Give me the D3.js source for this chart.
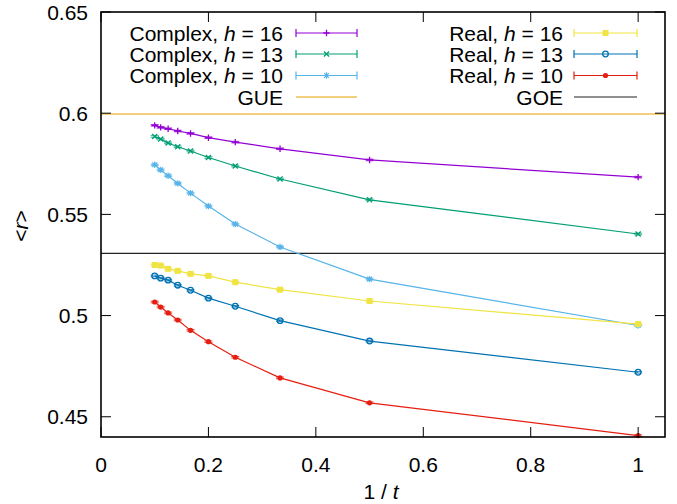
<!DOCTYPE html>
<html>
<head>
<meta charset="utf-8">
<script src="https://cdn.jsdelivr.net/npm/d3@7"></script>
<style>
  html, body { margin: 0; padding: 0; background: #fff; }
  svg { display: block; font-family: "Liberation Sans", Arial, Helvetica, sans-serif; }
</style>
</head>
<body>
<svg id="chart" width="677" height="504"></svg>
<script>
// x = 1/t for t = 10 ... 1
const invT = [1/10, 1/9, 1/8, 1/7, 1/6, 1/5, 1/4, 1/3, 1/2, 1];

// mean gap ratio <r> per series (same order as invT)
const complexH16 = [0.5940, 0.5930, 0.5923, 0.5912, 0.5900, 0.5879, 0.5857, 0.5824, 0.5769, 0.5684];
const complexH13 = [0.5885, 0.5872, 0.5853, 0.5834, 0.5813, 0.5781, 0.5739, 0.5675, 0.5572, 0.5403];
const complexH10 = [0.5745, 0.5720, 0.5691, 0.5653, 0.5605, 0.5541, 0.5452, 0.5339, 0.5180, 0.4951];
const realH16    = [0.5250, 0.5247, 0.5231, 0.5221, 0.5206, 0.5196, 0.5165, 0.5128, 0.5072, 0.4958];
const realH13    = [0.5196, 0.5185, 0.5175, 0.5150, 0.5125, 0.5086, 0.5046, 0.4975, 0.4874, 0.4720];
const realH10    = [0.5067, 0.5042, 0.5013, 0.4978, 0.4927, 0.4871, 0.4794, 0.4692, 0.4569, 0.4407];

// reference ensembles
const gueValue = 0.5996;
const goeValue = 0.5307;

const xTicks = [0, 0.2, 0.4, 0.6, 0.8, 1];
const yTicks = [0.45, 0.5, 0.55, 0.6, 0.65];

const series = [
  { label: "Complex, ", h: "16", values: complexH16, color: "#9400d3", marker: "plus",     col: 0, row: 0 },
  { label: "Complex, ", h: "13", values: complexH13, color: "#009e73", marker: "cross",    col: 0, row: 1 },
  { label: "Complex, ", h: "10", values: complexH10, color: "#56b4e9", marker: "star",     col: 0, row: 2 },
  { label: "Real, ",    h: "16", values: realH16,    color: "#f0e442", marker: "square",   col: 1, row: 0 },
  { label: "Real, ",    h: "13", values: realH13,    color: "#0072b2", marker: "circle",   col: 1, row: 1 },
  { label: "Real, ",    h: "10", values: realH10,    color: "#e51e10", marker: "dot",      col: 1, row: 2 }
];

const svg = d3.select("#chart");
const plotL = 101, plotR = 665, plotT = 12, plotB = 437;

const x = d3.scaleLinear().domain([0, 1.05]).range([plotL, plotR]);
const y = d3.scaleLinear().domain([0.44, 0.65]).range([plotB, plotT]);

const fontSize = 21;
const tickLen = 10;

// reference lines
svg.append("line")
  .attr("x1", plotL).attr("x2", plotR)
  .attr("y1", y(gueValue)).attr("y2", y(gueValue))
  .attr("stroke", "#e69f00").attr("stroke-width", 1.2);
svg.append("line")
  .attr("x1", plotL).attr("x2", plotR)
  .attr("y1", y(goeValue)).attr("y2", y(goeValue))
  .attr("stroke", "#222").attr("stroke-width", 1.2);

// marker shapes
function drawMarker(g, type, color, cx, cy) {
  const s = 3.2;
  if (type === "plus") {
    g.append("path").attr("d", `M${cx - s},${cy}H${cx + s}M${cx},${cy - s}V${cy + s}`)
      .attr("stroke", color).attr("stroke-width", 1.3).attr("fill", "none");
  } else if (type === "cross") {
    g.append("path").attr("d", `M${cx - s * 0.8},${cy - s * 0.8}L${cx + s * 0.8},${cy + s * 0.8}M${cx - s * 0.8},${cy + s * 0.8}L${cx + s * 0.8},${cy - s * 0.8}`)
      .attr("stroke", color).attr("stroke-width", 1.3).attr("fill", "none");
  } else if (type === "star") {
    g.append("path").attr("d", `M${cx - s},${cy}H${cx + s}M${cx},${cy - s}V${cy + s}M${cx - s * 0.75},${cy - s * 0.75}L${cx + s * 0.75},${cy + s * 0.75}M${cx - s * 0.75},${cy + s * 0.75}L${cx + s * 0.75},${cy - s * 0.75}`)
      .attr("stroke", color).attr("stroke-width", 1.2).attr("fill", "none");
  } else if (type === "square") {
    g.append("rect").attr("x", cx - 3).attr("y", cy - 3).attr("width", 6).attr("height", 6)
      .attr("fill", color);
  } else if (type === "circle") {
    g.append("circle").attr("cx", cx).attr("cy", cy).attr("r", 2.8)
      .attr("fill", "none").attr("stroke", color).attr("stroke-width", 1.3);
  } else if (type === "dot") {
    g.append("circle").attr("cx", cx).attr("cy", cy).attr("r", 2.6).attr("fill", color);
  }
}

// data curves
const line = d3.line().x(d => x(d[0])).y(d => y(d[1]));
series.forEach(s => {
  const pts = invT.map((t, i) => [t, s.values[i]]);
  const g = svg.append("g");
  g.append("path").datum(pts).attr("d", line)
    .attr("fill", "none").attr("stroke", s.color).attr("stroke-width", 1.2);
  pts.forEach(p => {
    const cx = x(p[0]), cy = y(p[1]);
    // short error-bar caps
    g.append("path").attr("d", `M${cx - 4},${cy - 0.8}H${cx + 4}M${cx - 4},${cy + 0.8}H${cx + 4}`)
      .attr("stroke", s.color).attr("stroke-width", 1).attr("opacity", 0.8);
    drawMarker(g, s.marker, s.color, cx, cy);
  });
});

// frame and ticks (mirrored on all four sides)
const axes = svg.append("g").attr("stroke", "#000").attr("stroke-width", 1);
yTicks.forEach(v => {
  axes.append("line").attr("x1", plotL).attr("x2", plotL + tickLen).attr("y1", y(v)).attr("y2", y(v));
  axes.append("line").attr("x1", plotR).attr("x2", plotR - tickLen).attr("y1", y(v)).attr("y2", y(v));
});
xTicks.forEach(v => {
  axes.append("line").attr("x1", x(v)).attr("x2", x(v)).attr("y1", plotB).attr("y2", plotB - tickLen);
  axes.append("line").attr("x1", x(v)).attr("x2", x(v)).attr("y1", plotT).attr("y2", plotT + tickLen);
});
svg.append("rect").attr("x", plotL).attr("y", plotT)
  .attr("width", plotR - plotL).attr("height", plotB - plotT)
  .attr("fill", "none").attr("stroke", "#000").attr("stroke-width", 1.6);

// tick labels
svg.append("g").selectAll("text").data(yTicks).join("text")
  .attr("x", plotL - 13).attr("y", d => y(d) + 7.5)
  .attr("text-anchor", "end").attr("font-size", fontSize)
  .text(d => d3.format("~g")(d));
svg.append("g").selectAll("text").data(xTicks).join("text")
  .attr("x", d => x(d)).attr("y", 472)
  .attr("text-anchor", "middle").attr("font-size", fontSize)
  .text(d => d3.format("~g")(d));

// axis titles
const xt = svg.append("text").attr("x", (plotL + plotR) / 2 - 2).attr("y", 499)
  .attr("text-anchor", "middle").attr("font-size", fontSize);
xt.append("tspan").text("1 / ");
xt.append("tspan").attr("font-style", "italic").text("t");

const yt = svg.append("text")
  .attr("transform", `translate(28,226) rotate(-90)`)
  .attr("text-anchor", "middle").attr("font-size", fontSize);
yt.append("tspan").text("<");
yt.append("tspan").attr("font-style", "italic").text("r");
yt.append("tspan").text(">");

// legend
const legendCols = [
  { textRight: 283, x1: 296, x2: 357 },
  { textRight: 563, x1: 574, x2: 637 }
];
const rowY = [33, 54, 75.5, 97];
const legend = svg.append("g");

function legendText(col, row, parts) {
  const t = legend.append("text")
    .attr("x", legendCols[col].textRight).attr("y", rowY[row] + 7.5)
    .attr("text-anchor", "end").attr("font-size", fontSize);
  parts.forEach(p => {
    const sp = t.append("tspan").text(p.text);
    if (p.italic) sp.attr("font-style", "italic");
  });
}

series.forEach(s => {
  const c = legendCols[s.col], yy = rowY[s.row];
  legendText(s.col, s.row, [{ text: s.label }, { text: "h", italic: true }, { text: " = " + s.h }]);
  legend.append("path")
    .attr("d", `M${c.x1},${yy}H${c.x2}M${c.x1},${yy - 4}V${yy + 4}M${c.x2},${yy - 4}V${yy + 4}`)
    .attr("stroke", s.color).attr("stroke-width", 1.2).attr("fill", "none");
  drawMarker(legend, s.marker, s.color, (c.x1 + c.x2) / 2, yy);
});

legendText(0, 3, [{ text: "GUE" }]);
legend.append("line").attr("x1", legendCols[0].x1).attr("x2", legendCols[0].x2)
  .attr("y1", rowY[3]).attr("y2", rowY[3]).attr("stroke", "#e69f00").attr("stroke-width", 1.2);
legendText(1, 3, [{ text: "GOE" }]);
legend.append("line").attr("x1", legendCols[1].x1).attr("x2", legendCols[1].x2)
  .attr("y1", rowY[3]).attr("y2", rowY[3]).attr("stroke", "#222").attr("stroke-width", 1.2);
</script>
</body>
</html>
